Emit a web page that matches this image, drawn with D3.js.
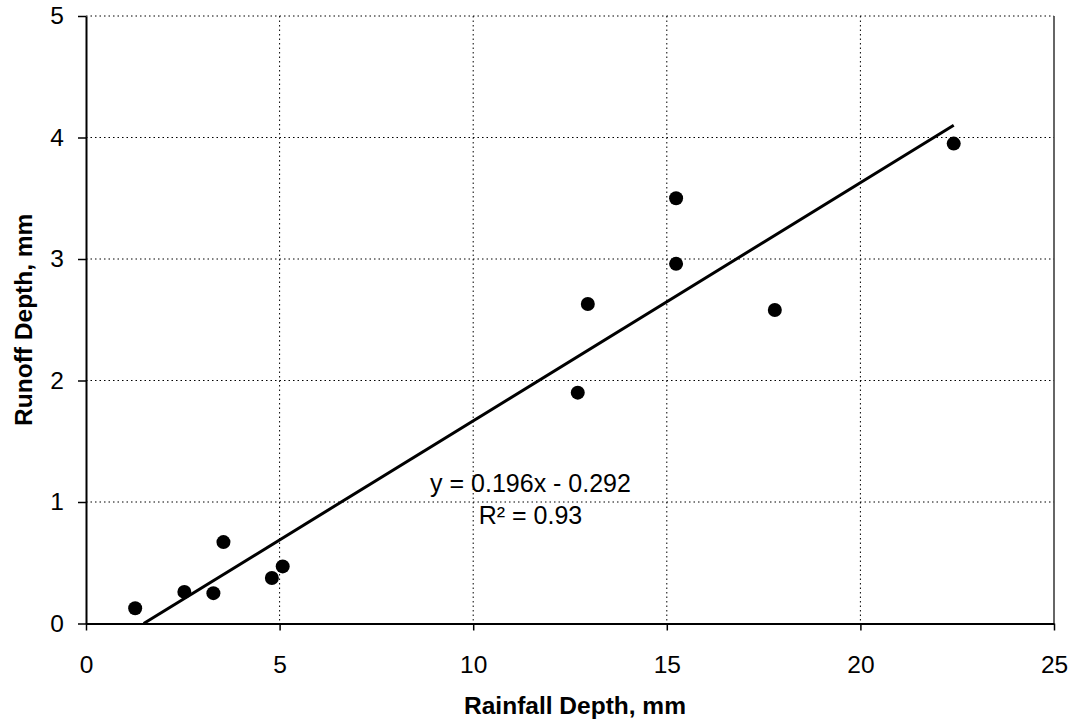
<!DOCTYPE html>
<html>
<head>
<meta charset="utf-8">
<script src="https://cdn.jsdelivr.net/npm/d3@7"></script>
<style>
  body { margin: 0; background: #fff; }
  svg text { font-family: "Liberation Sans", Arial, sans-serif; fill: #000; }
</style>
</head>
<body>
<div id="chart"></div>
<script>
const rainfall = [1.27, 2.54, 3.29, 3.55, 4.80, 5.08, 12.70, 12.96, 15.24, 15.24, 17.79, 22.41];
const runoff   = [0.125, 0.26, 0.25, 0.67, 0.375, 0.47, 1.90, 2.63, 2.96, 3.50, 2.58, 3.95];
const xTicks = [0, 5, 10, 15, 20, 25];
const yTicks = [0, 1, 2, 3, 4, 5];
const slope = 0.196, intercept = -0.292;
const eqLines = ["y = 0.196x - 0.292", "R\u00b2 = 0.93"];

const width = 1076, height = 725;
const plotLeft = 86, plotRight = 1054, plotTop = 16, plotBottom = 623.5;

const svg = d3.select("#chart").append("svg")
  .attr("width", width)
  .attr("height", height);

const x = d3.scaleLinear().domain([0, 25]).range([plotLeft, plotRight]);
const y = d3.scaleLinear().domain([0, 5]).range([plotBottom, plotTop]);

// dotted grid
svg.append("g")
  .selectAll("line")
  .data(xTicks.slice(1, -1))
  .join("line")
  .attr("x1", d => x(d)).attr("x2", d => x(d))
  .attr("y1", plotTop).attr("y2", plotBottom)
  .attr("stroke", "#000")
  .attr("stroke-width", 1)
  .attr("stroke-dasharray", "1.5,3");

svg.append("g")
  .selectAll("line")
  .data(yTicks.slice(1))
  .join("line")
  .attr("x1", plotLeft).attr("x2", plotRight)
  .attr("y1", d => y(d)).attr("y2", d => y(d))
  .attr("stroke", "#000")
  .attr("stroke-width", 1)
  .attr("stroke-dasharray", "1.5,3");

// right border
svg.append("line")
  .attr("x1", plotRight).attr("x2", plotRight)
  .attr("y1", plotTop).attr("y2", plotBottom)
  .attr("stroke", "#333")
  .attr("stroke-width", 1.5);

// axes
const xAxis = svg.append("g")
  .attr("transform", `translate(0,${plotBottom})`)
  .call(d3.axisBottom(x).tickValues(xTicks).tickFormat(d3.format("d"))
    .tickSize(7).tickPadding(25).tickSizeOuter(0));

const yAxis = svg.append("g")
  .attr("transform", `translate(${plotLeft},0)`)
  .call(d3.axisLeft(y).tickValues(yTicks).tickFormat(d3.format("d"))
    .tickSize(8).tickPadding(14).tickSizeOuter(0));

[xAxis, yAxis].forEach(g => {
  g.select(".domain").attr("stroke", "#000").attr("stroke-width", 2);
  g.selectAll(".tick line").attr("stroke", "#000").attr("stroke-width", 1.5);
  g.selectAll(".tick text")
    .style("font-family", "'Liberation Sans', Arial, sans-serif")
    .style("font-size", "24.5px")
    .attr("fill", "#000");
});

// trend line
const xStart = Math.max(d3.min(rainfall), -intercept / slope);
const xEnd = d3.max(rainfall);
svg.append("path")
  .datum([xStart, xEnd])
  .attr("d", d3.line().x(d => x(d)).y(d => y(slope * d + intercept)))
  .attr("stroke", "#000")
  .attr("stroke-width", 3)
  .attr("fill", "none");

// points
svg.append("g")
  .selectAll("circle")
  .data(rainfall.map((r, i) => [r, runoff[i]]))
  .join("circle")
  .attr("cx", d => x(d[0]))
  .attr("cy", d => y(d[1]))
  .attr("r", 7)
  .attr("fill", "#000");

// equation
svg.append("text")
  .attr("x", 530.5)
  .attr("y", 492)
  .attr("text-anchor", "middle")
  .style("font-size", "25px")
  .selectAll("tspan")
  .data(eqLines)
  .join("tspan")
  .attr("x", 530.5)
  .attr("dy", (d, i) => i === 0 ? 0 : 31.5)
  .text(d => d);

// axis titles
svg.append("text")
  .attr("x", 575)
  .attr("y", 714)
  .attr("text-anchor", "middle")
  .style("font-size", "24.5px")
  .style("font-weight", "bold")
  .text("Rainfall Depth, mm");

svg.append("text")
  .attr("transform", "rotate(-90)")
  .attr("x", -(plotTop + plotBottom) / 2)
  .attr("y", 31.5)
  .attr("text-anchor", "middle")
  .style("font-size", "24.5px")
  .style("font-weight", "bold")
  .text("Runoff Depth, mm");
</script>
</body>
</html>
